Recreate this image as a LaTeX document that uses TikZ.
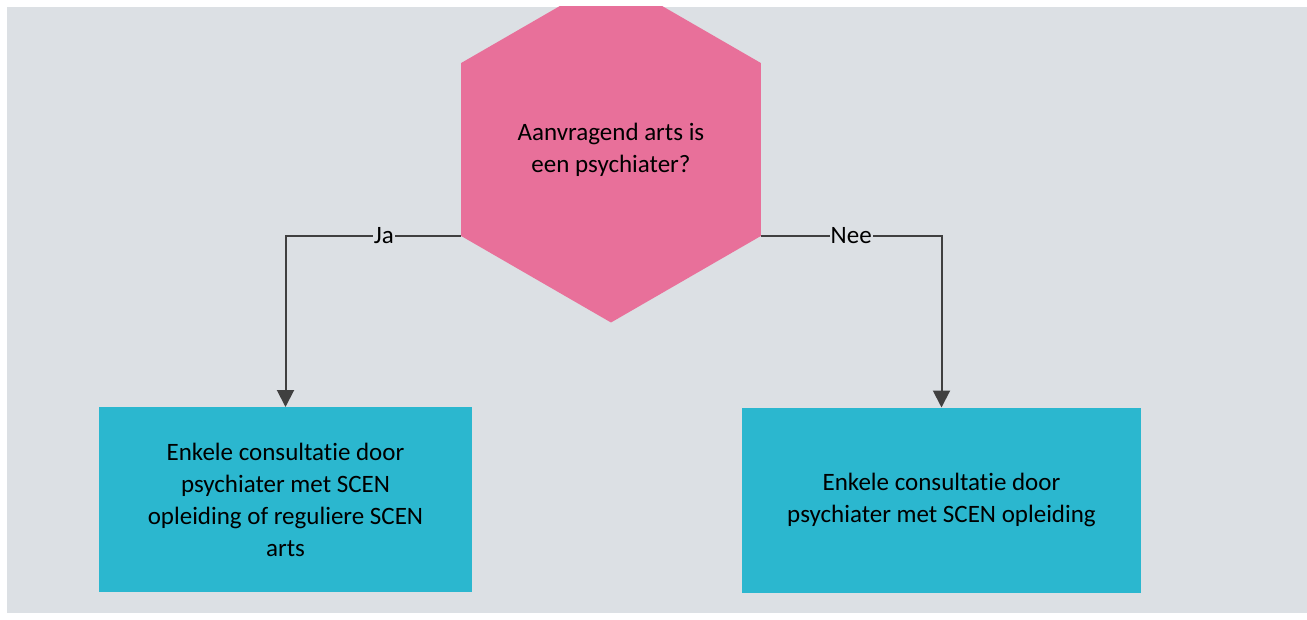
\documentclass[tikz,border=0pt]{standalone}
\usepackage{fontspec}
\setmainfont{Carlito}[Ligatures=NoCommon]
\usetikzlibrary{shapes.geometric, arrows.meta, positioning}
\definecolor{canvas}{HTML}{DCE0E4}
\definecolor{decpink}{HTML}{E8709A}
\definecolor{outcyan}{HTML}{2BB7CF}
\definecolor{linegray}{HTML}{404040}

\begin{document}
\begin{tikzpicture}[
    x=1pt, y=-1pt,
    every node/.style={font=\fontsize{25}{32}\selectfont},
    decision/.style={regular polygon, regular polygon sides=6, shape border rotate=30,
                     minimum size=346pt, inner sep=0pt, outer sep=0pt,
                     fill=decpink, align=center},
    outcome/.style={rectangle, fill=outcyan, minimum height=185pt,
                    inner sep=0pt, outer sep=0pt, align=center},
    arr/.style={-{Triangle[length=17pt, width=17pt]}, line width=2pt, draw=linegray},
    lbl/.style={fill=canvas, inner sep=1pt},
]
    % Canvas
    \useasboundingbox (0,0) rectangle (1307,620);
    \fill[white] (0,0) rectangle (1307,620);
    \fill[canvas] (7,7) rectangle (1307,613);

    % Decision
    \begin{scope}
        \clip (7,7) rectangle (1307,613);
        \node[decision] (ask) at (611,149.5) {Aanvragend arts is\\een psychiater?};
    \end{scope}

    % Outcomes
    \node[outcome, minimum width=373pt] (ja) at (285.5,499.5)
        {Enkele consultatie door\\psychiater met SCEN\\opleiding of reguliere SCEN\\arts};
    \node[outcome, minimum width=399pt] (nee) at (941.5,500)
        {Enkele consultatie door\\psychiater met SCEN opleiding};

    % Arrows
    \draw[arr] (ask.210) -| node[lbl, pos=0.22] {Ja} (ja.north);
    \draw[arr] (ask.330) -| node[lbl, pos=0.25] {Nee} (nee.north);
\end{tikzpicture}
\end{document}
